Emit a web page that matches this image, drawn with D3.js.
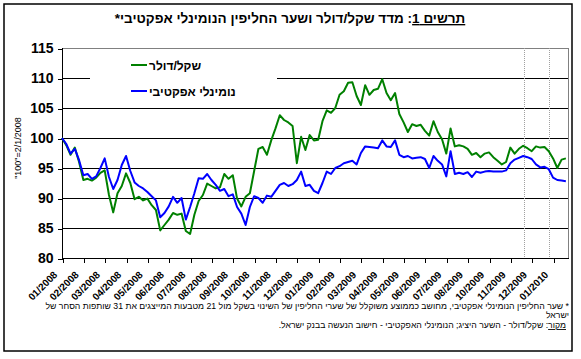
<!DOCTYPE html>
<html><head><meta charset="utf-8">
<script src="https://cdn.jsdelivr.net/npm/d3@7"></script>
<style>body{margin:0;background:#fff}svg{display:block}</style>
</head><body>
<script>
// ---- data ----
const tickLabels = ["01/2008","02/2008","03/2008","04/2008","05/2008","06/2008","07/2008","08/2008","09/2008","10/2008","11/2008","12/2008",
  "01/2009","02/2009","03/2009","04/2009","05/2009","06/2009","07/2009","08/2009","10/2009","11/2009","12/2009","01/2010"];
const yTicks = [80,85,90,95,100,105,110,115];
const seriesNames = ["שקל/דולר", "נומינלי אפקטיבי"];
// samples every 0.2 month (~weekly) starting 2/1/2008
const shekelDollar = [100,98.8,97.2,98.4,96.0,93.0,93.2,92.9,93.4,94.2,
  94.6,90.5,87.6,90.8,92.0,94.1,92.5,89.8,90.2,89.6,
  89.9,88.8,88.0,84.6,85.5,86.4,87.5,87.2,87.4,84.5,
  84.0,87.2,89.5,90.5,92.4,92.0,91.6,91.8,94.0,93.2,
  93.8,89.9,88.6,90.2,90.8,94.5,98.2,98.5,97.2,99.6,
  101.6,103.8,103.0,102.6,102.0,95.8,100.2,98.0,100.5,99.6,
  99.7,102.8,104.6,104.2,105.0,107.2,107.8,109.2,109.3,107.0,
  105.5,108.8,107.2,108.0,108.2,109.8,107.5,106.3,107.5,104.0,
  102.6,101.0,102.3,102.0,102.2,101.2,100.4,102.8,101.0,99.8,
  97.4,101.6,98.6,98.8,98.6,98.2,97.2,97.5,96.8,97.4,
  97.6,96.8,96.2,95.6,96.0,98.4,97.4,98.2,98.7,98.3,
  97.8,98.6,98.4,98.5,97.8,96.6,95.0,96.4,96.6];
const nominalEffective = [100,99.0,97.4,98.2,96.3,93.8,94.0,93.2,93.6,95.0,
  96.6,93.5,91.5,93.0,95.5,97.0,94.5,92.6,92.0,91.6,
  91.0,90.3,89.6,86.8,87.5,88.6,90.2,89.2,90.0,86.4,
  88.5,90.8,93.3,93.2,94.0,93.0,92.2,91.2,91.5,90.3,
  90.6,88.5,87.4,85.5,88.5,90.3,90.0,89.2,90.4,90.2,
  91.2,92.2,92.5,92.0,92.3,93.0,94.4,92.0,92.2,91.2,
  90.8,92.5,94.4,94.0,95.0,95.3,95.8,96.0,96.2,95.6,
  97.5,98.6,98.5,98.4,98.3,99.6,98.6,98.5,99.6,97.2,
  96.8,97.0,96.6,96.7,96.8,96.5,95.0,97.0,96.2,95.6,
  93.6,97.8,94.0,94.2,94.0,94.3,93.5,94.4,94.2,94.4,
  94.5,94.4,94.4,94.4,94.6,95.8,96.4,96.7,97.0,96.8,
  96.5,95.6,95.1,95.2,94.8,93.4,93.0,92.9,92.8];
const sampleStep = 0.2;
const markerMonths = [21.64, 22.81];

// ---- layout ----
const W = 581, H = 359;
const FONT = "Arial, 'Liberation Sans', sans-serif";
const svg = d3.select("body").append("svg").attr("width", W).attr("height", H)
  .style("font-family", FONT);

svg.append("rect").attr("x", 4).attr("y", 4).attr("width", 568).attr("height", 347)
  .attr("fill", "#fff").attr("stroke", "#000").attr("stroke-width", 1.5);

const x = d3.scaleLinear().domain([0, 23.7]).range([62, 568]);
const y = d3.scaleLinear().domain([80, 115]).range([258, 48]);

// title
const title = svg.append("text").attr("x", 290).attr("y", 23)
  .attr("text-anchor", "middle").style("direction", "rtl")
  .attr("font-size", 13.5).attr("font-weight", "bold");
title.append("tspan").attr("text-decoration", "underline").text("תרשים 1");
title.append("tspan").text(": מדד שקל/דולר ושער החליפין הנומינלי אפקטיבי*");

// gridlines
const grid = svg.append("g").attr("shape-rendering", "crispEdges");
grid.selectAll("line.g").data(yTicks.filter(v => v > 80 && v < 115)).join("line")
  .attr("x1", 62).attr("x2", 568).attr("y1", d => y(d) + 0.5).attr("y2", d => y(d) + 0.5)
  .attr("stroke", "#000").attr("stroke-width", 1);
grid.append("path").attr("d", `M62,${y(115)+0.5}H568.5V258`).attr("fill", "none")
  .attr("stroke", "#808080").attr("stroke-width", 1);
grid.selectAll("line.m").data(markerMonths).join("line")
  .attr("x1", d => Math.round(x(d)) + 0.5).attr("x2", d => Math.round(x(d)) + 0.5)
  .attr("y1", y(115)).attr("y2", y(80))
  .attr("stroke", "#a0a0a0").attr("stroke-dasharray", "1,1");

// axes
const yAxis = svg.append("g").attr("transform", "translate(62.5,0.5)")
  .call(d3.axisLeft(y).tickValues(yTicks).tickSize(5).tickPadding(4).tickFormat(d3.format("d")));
yAxis.select(".domain").attr("d", `M0,${y(115)-0.5}V${y(80)}`);
yAxis.selectAll("text").attr("font-size", 14).attr("font-weight", "bold").attr("font-family", FONT);
yAxis.attr("shape-rendering", "crispEdges");

const xAxis = svg.append("g").attr("transform", "translate(0.5,258.5)")
  .call(d3.axisBottom(x).tickValues(d3.range(tickLabels.length)).tickSize(4).tickFormat((d, i) => tickLabels[i]));
xAxis.select(".domain").attr("d", `M62,0H568`);
xAxis.attr("shape-rendering", "crispEdges");
xAxis.selectAll("text").attr("font-size", 10).attr("font-weight", "bold")
  .attr("font-family", FONT)
  .attr("text-anchor", "end").attr("x", 0).attr("y", 0).attr("dy", 0)
  .attr("transform", "translate(-5,17) rotate(-45)");

// y title
svg.append("text").attr("transform", "translate(21,148) rotate(-90)")
  .attr("text-anchor", "middle").attr("font-size", 9).text('"100"=2/1/2008');

// series
const line = d3.line().x((d, i) => x(i * sampleStep)).y(d => y(d));
svg.append("path").datum(shekelDollar).attr("d", line).attr("fill", "none")
  .attr("stroke", "#008000").attr("stroke-width", 2).attr("stroke-linejoin", "round");
svg.append("path").datum(nominalEffective).attr("d", line).attr("fill", "none")
  .attr("stroke", "#0000ff").attr("stroke-width", 2).attr("stroke-linejoin", "round");

// legend
const lg = svg.append("g");
lg.append("rect").attr("x", 90).attr("y", 56).attr("width", 187).attr("height", 46).attr("fill", "#fff");
const colors = ["#008000", "#0000ff"];
seriesNames.forEach((n, i) => {
  const yy = 65 + i * 26;
  lg.append("line").attr("x1", 131).attr("x2", 147).attr("y1", yy).attr("y2", yy)
    .attr("stroke", colors[i]).attr("stroke-width", 2);
  lg.append("text").attr("x", 149).attr("y", yy + 4.5).attr("font-size", 12).attr("font-weight", "bold")
    .text(n);
});

// footnotes
const fn = svg.append("g").attr("font-size", 8.7);
fn.append("text").attr("x", 569).attr("y", 309).style("direction", "rtl").attr("text-anchor", "start")
  .text("* שער החליפין הנומינלי אפקטיבי, מחושב כממוצע משוקלל של שערי החליפין של השינוי בשקל מול 21 מטבעות המייצגים את 31 שותפות הסחר של");
fn.append("text").attr("x", 569).attr("y", 318).style("direction", "rtl").attr("text-anchor", "start")
  .text("ישראל");
const src = fn.append("text").attr("x", 566).attr("y", 328).style("direction", "rtl").attr("text-anchor", "start");
src.append("tspan").attr("text-decoration", "underline").text("מקור");
src.append("tspan").text(": שקל/דולר - השער היציג; הנומינלי האפקטיבי - חישוב הנעשה בבנק ישראל.");
</script>
</body></html>
